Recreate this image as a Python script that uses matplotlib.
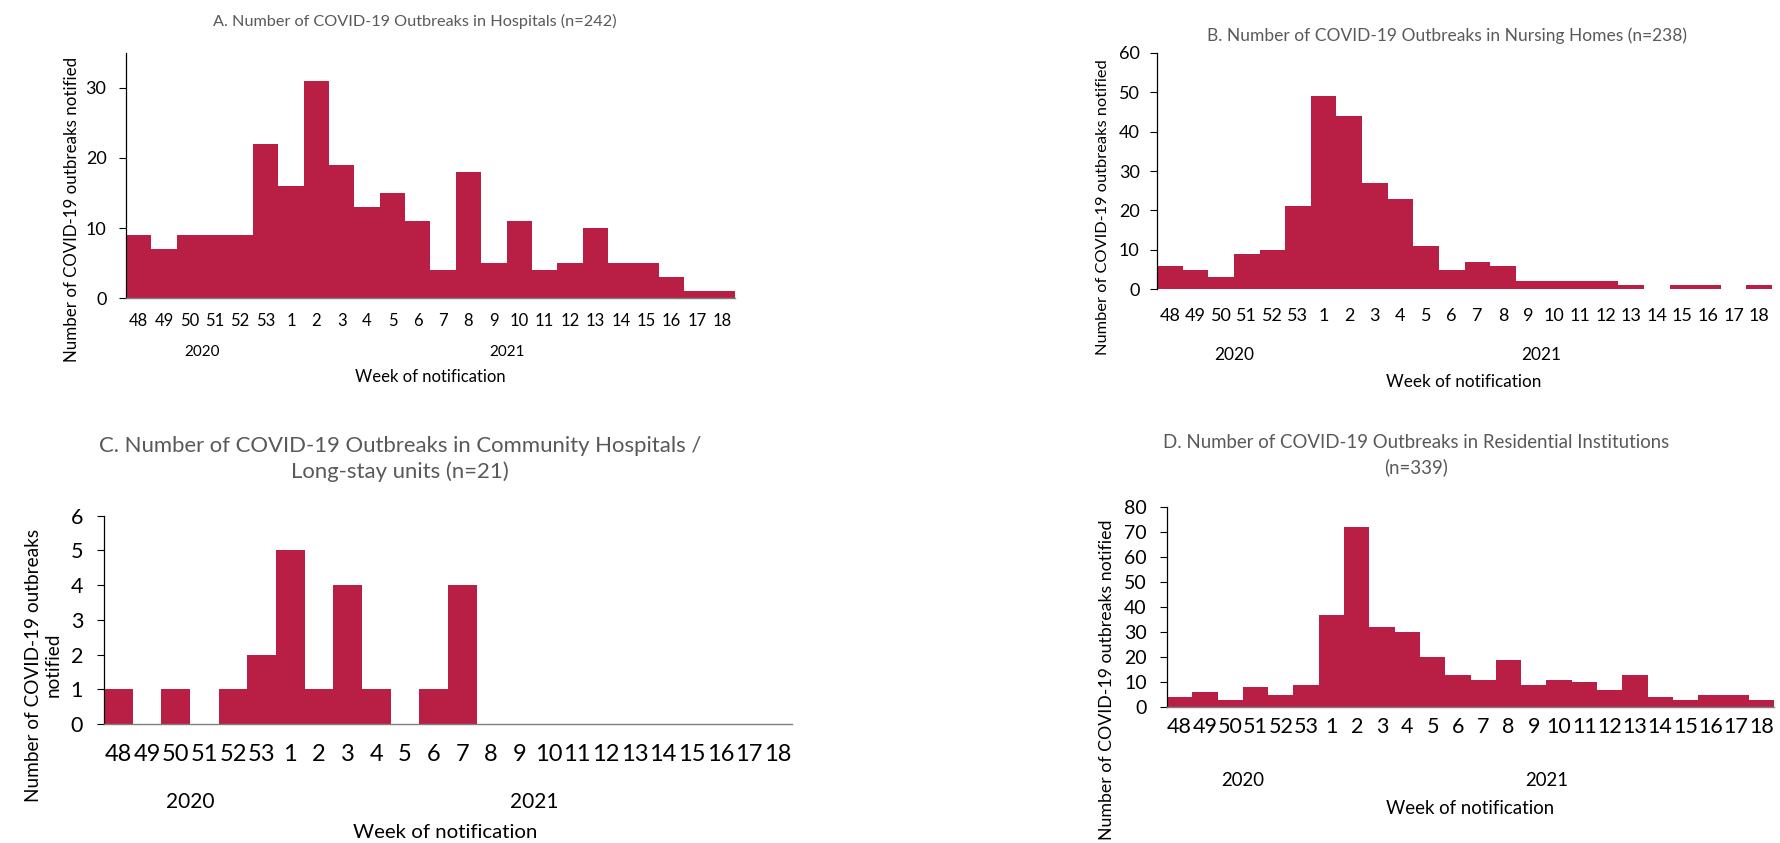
import matplotlib
matplotlib.use("Agg")
import matplotlib.pyplot as plt
import matplotlib.transforms as mtransforms

plt.rcParams["font.family"] = ["Lato", "DejaVu Sans"]

# Week labels (2020 wk 48-53, 2021 wk 1-18)
weeks = ["48", "49", "50", "51", "52", "53"] + [str(w) for w in range(1, 19)]
years = ["2020", "2021"]

hospitals = [9, 7, 9, 9, 9, 22, 16, 31, 19, 13, 15, 11, 4, 18, 5, 11, 4, 5, 10, 5, 5, 3, 1, 1]
nursing_homes = [6, 5, 3, 9, 10, 21, 49, 44, 27, 23, 11, 5, 7, 6, 2, 2, 2, 2, 1, 0, 1, 1, 0, 1]
community_hosp = [1, 0, 1, 0, 1, 2, 5, 1, 4, 1, 0, 1, 4, 0, 0, 0, 0, 0, 0, 0, 0, 0, 0, 0]
residential = [4, 6, 3, 8, 5, 9, 37, 72, 32, 30, 20, 13, 11, 19, 9, 11, 10, 7, 13, 4, 3, 5, 5, 3]

BAR = "#B91F45"
TITLE_GREY = "#595959"

W, H = 1780, 843
fig = plt.figure(figsize=(W / 100, H / 100), dpi=100)


def rect(left, right, top, bottom):
    return [left / W, 1 - bottom / H, (right - left) / W, (bottom - top) / H]


def fx(px):
    return px / W


def fy(py):
    return 1 - py / H


def panel(box, values, ymax, ystep, s, bottom_line=True):
    ax = fig.add_axes(rect(*box))
    x = list(range(len(values)))
    ax.bar(x, values, width=1.0, color=BAR, linewidth=0)
    ax.set_xlim(-0.5, len(values) - 0.5)
    ax.set_ylim(0, ymax)
    ax.set_yticks(range(0, ymax + 1, ystep))
    ax.set_xticks(x)
    ax.set_xticklabels(weeks, fontsize=s["xtick"])
    for lab in ax.get_xticklabels():
        lab.set_va("center")
    ax.tick_params(axis="x", length=0, pad=s["xpad"])
    ax.tick_params(axis="y", length=5, width=0.8, labelsize=s["ytick"], pad=s["ypad"])
    for side in ("top", "right"):
        ax.spines[side].set_visible(False)
    ax.spines["left"].set_color("black")
    ax.spines["left"].set_linewidth(0.9)
    ax.spines["bottom"].set_color("#7F7F7F")
    ax.spines["bottom"].set_linewidth(1.0)
    ax.spines["bottom"].set_visible(bottom_line)
    # year group labels under the week labels
    trans = mtransforms.blended_transform_factory(ax.transData, fig.transFigure)
    for xpos, yr in zip([2.5, 14.5], years):
        ax.text(xpos, fy(s["year_y"]), yr, transform=trans, ha="center", va="center",
                fontsize=s["year"])
    return ax


# A. Hospitals
panel((126, 735, 52.6, 298.3), hospitals, 35, 10,
      dict(xtick=12, ytick=13, xpad=16, ypad=9, year_y=352, year=11))
fig.text(fx(415), fy(21), "A. Number of COVID-19 Outbreaks in Hospitals (n=242)",
         ha="center", va="center", fontsize=11.7, color=TITLE_GREY)
fig.text(fx(430), fy(377), "Week of notification", ha="center", va="center", fontsize=12)
fig.text(fx(72), fy(209), "Number of COVID-19 outbreaks notified", rotation=90,
         ha="center", va="center", fontsize=12.2)

# B. Nursing homes
panel((1157, 1772, 52.7, 289.3), nursing_homes, 60, 10,
      dict(xtick=13, ytick=13, xpad=19, ypad=7.5, year_y=355, year=12.4),
      bottom_line=False)
fig.text(fx(1447), fy(36), "B. Number of COVID-19 Outbreaks in Nursing Homes (n=238)",
         ha="center", va="center", fontsize=12.5, color=TITLE_GREY)
fig.text(fx(1464), fy(382), "Week of notification", ha="center", va="center", fontsize=12.3)
fig.text(fx(1103), fy(207), "Number of COVID-19 outbreaks notified", rotation=90,
         ha="center", va="center", fontsize=11.8)

# C. Community hospitals / long-stay units
panel((104, 792, 515.7, 724), community_hosp, 6, 1,
      dict(xtick=17, ytick=15.5, xpad=22, ypad=10, year_y=802, year=15))
fig.text(fx(400), fy(459), "C. Number of COVID-19 Outbreaks in Community Hospitals /\nLong-stay units (n=21)",
         ha="center", va="center", fontsize=15.9, color=TITLE_GREY, linespacing=1.35)
fig.text(fx(445), fy(833), "Week of notification", ha="center", va="center", fontsize=14.7)
fig.text(fx(43), fy(665), "Number of COVID-19 outbreaks\nnotified", rotation=90,
         ha="center", va="center", fontsize=13.7, linespacing=1.2)

# D. Residential institutions
panel((1167, 1774, 506.7, 707.3), residential, 80, 10,
      dict(xtick=15.5, ytick=14, xpad=14, ypad=9.5, year_y=780, year=13.4))
fig.text(fx(1416), fy(455), "D. Number of COVID-19 Outbreaks in Residential Institutions\n(n=339)",
         ha="center", va="center", fontsize=13.4, color=TITLE_GREY, linespacing=1.5)
fig.text(fx(1470), fy(809), "Week of notification", ha="center", va="center", fontsize=13.4)
fig.text(fx(1107), fy(680), "Number of COVID-19 outbreaks notified", rotation=90,
         ha="center", va="center", fontsize=12.8)

fig.savefig("out.png", dpi=100)
